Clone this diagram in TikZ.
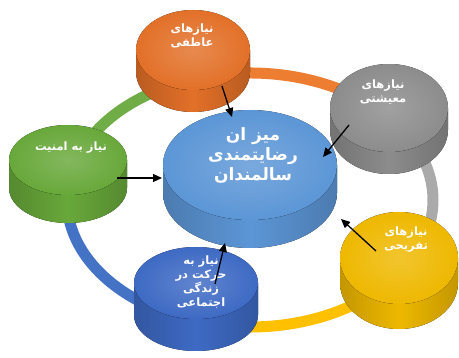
\documentclass[tikz,border=0pt]{standalone}
\usepackage{fontspec}
\newfontfamily\arabicfont[Script=Arabic,BoldFont={DejaVu Sans Bold}]{DejaVu Sans}
\TeXXeTstate=1
\usetikzlibrary{arrows.meta}
\definecolor{cOrange}{RGB}{226,112,40}
\definecolor{cGray}{RGB}{140,140,140}
\definecolor{cYellow}{RGB}{238,184,0}
\definecolor{cGreen}{RGB}{104,168,58}
\definecolor{cMain}{RGB}{92,150,214}
\definecolor{cBlue}{RGB}{62,106,196}
\definecolor{rOrange}{RGB}{237,125,49}
\definecolor{rGray}{RGB}{170,170,170}
\definecolor{rYellow}{RGB}{255,192,0}
\definecolor{rBlue}{RGB}{68,114,196}
\definecolor{rGreen}{RGB}{112,173,71}
% cx cy rx ry depth color
\newcommand\mycyl[6]{%
  \fill[left color=#6!82!black, right color=#6!82!black, middle color=#6]
    (#1-#3,#2) -- (#1-#3,#2+#5) arc[start angle=180, end angle=360, x radius=#3pt, y radius=#4pt]
    -- (#1+#3,#2) -- cycle;
  \fill[inner color=#6!82!white, outer color=#6] (#1,#2) ellipse[x radius=#3pt, y radius=#4pt];
}
\tikzset{
  ring/.style={line width=11pt},
  ringarc/.style={x radius=183pt, y radius=127pt},
  lbl/.style={text=white, align=center, inner sep=0pt,
    font=\arabicfont\bfseries\fontsize{11.5}{14}\selectfont},
  mainlbl/.style={text=white, align=center, inner sep=0pt,
    font=\arabicfont\bfseries\fontsize{17}{20}\selectfont},
  arr/.style={-{Triangle[length=9pt,width=8pt]}, line width=1.3pt, black}
}
\begin{document}
\begin{tikzpicture}[x=1pt,y=-1pt]
\useasboundingbox (0,0) rectangle (459,358);
\fill[white] (0,0) rectangle (459,358);
% ring
\draw[ring, rOrange] (250,200) ++(30:183pt and 127pt) arc[ringarc, start angle=30, end angle=115];
\draw[ring, rGreen] (250,200) ++(115:183pt and 127pt) arc[ringarc, start angle=115, end angle=170];
\draw[ring, rBlue] (250,200) ++(170:183pt and 127pt) arc[ringarc, start angle=170, end angle=250];
\draw[ring, rYellow] (250,200) ++(250:183pt and 127pt) arc[ringarc, start angle=250, end angle=330];
\draw[ring, rGray] (250,200) ++(330:183pt and 127pt) arc[ringarc, start angle=330, end angle=390];
% cylinders
\mycyl{193}{50}{57}{40}{22}{cOrange}
\mycyl{389}{108}{59}{44}{22}{cGray}
\mycyl{68}{160}{59}{35}{28}{cGreen}
\mycyl{399}{258}{59}{46}{25}{cYellow}
\mycyl{196}{283}{62}{36}{32}{cBlue}
\mycyl{250}{165}{87}{55}{28}{cMain}
% labels
\node[lbl] (emo) at (192,36) {\beginR نیازهای\endR\\\beginR عاطفی\endR};
\node[lbl] (liv) at (383,92) {\beginR نیازهای\endR\\\beginR معیشتی\endR};
\node[lbl] (fun) at (406,240) {\beginR نیازهای\endR\\\beginR تفریحی\endR};
\node[lbl] (soc) at (201,282) {\beginR نیاز به\endR\\\beginR حرکت در\endR\\\beginR زندگی\endR\\\beginR اجتماعی\endR};
\node[lbl] (sec) at (71,148) {\beginR نیاز به امنیت\endR};
\node[mainlbl] (main) at (253,155) {\beginR میز ان\endR\\\beginR رضایتمندی\endR\\\beginR سالمندان\endR};
% arrow end points
\coordinate (a1) at (222,86);  \coordinate (b1) at (232,117);
\coordinate (a2) at (349,125); \coordinate (b2) at (323,157);
\coordinate (a3) at (117,178); \coordinate (b3) at (162,178);
\coordinate (a4) at (376,251); \coordinate (b4) at (341,219);
\coordinate (a5) at (215,284); \coordinate (b5) at (225,243);
\draw[arr] (a1) -- (b1);
\draw[arr] (a2) -- (b2);
\draw[arr] (a3) -- (b3);
\draw[arr] (a4) -- (b4);
\draw[arr] (a5) -- (b5);
\end{tikzpicture}
\end{document}
